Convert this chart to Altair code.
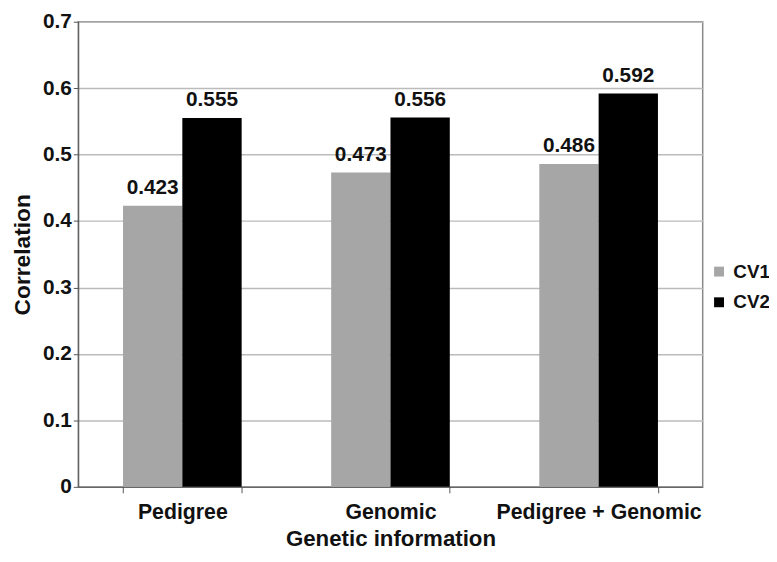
import altair as alt
import pandas as pd

categories = ["Pedigree", "Genomic", "Pedigree + Genomic"]
series = ["CV1", "CV2"]
cv1 = [0.423, 0.473, 0.486]
cv2 = [0.555, 0.556, 0.592]

rows = []
for c, a, b in zip(categories, cv1, cv2):
    rows.append({"cat": c, "series": "CV1", "value": a, "label": f"{a:.3f}"})
    rows.append({"cat": c, "series": "CV2", "value": b, "label": f"{b:.3f}"})
df = pd.DataFrame(rows)

FONT = "Liberation Sans"

x = alt.X("cat:N", sort=categories, title="Genetic information",
          scale=alt.Scale(paddingInner=0.43, paddingOuter=0.215),
          axis=alt.Axis(labelAngle=0, tickBand="extent", labelFontSize=21.5,
                        labelFontWeight="bold", titleFontSize=22.5, titleFontWeight="bold",
                        labelPadding=9, titlePadding=5, labelLimit=400,
                        domainColor="#555555", tickColor="#555555", tickSize=6,
                        labelColor="#111111", titleColor="#111111", grid=False,
                        labelFont=FONT, titleFont=FONT))
y = alt.Y("value:Q", title="Correlation",
          scale=alt.Scale(domain=[0, 0.7], nice=False),
          axis=alt.Axis(values=[0, 0.1, 0.2, 0.3, 0.4, 0.5, 0.6, 0.7], format=".1~f",
                        labelFontSize=21, labelFontWeight="bold", titleFontSize=23,
                        titleFontWeight="bold", gridColor="#bbbbbb", gridWidth=1.5,
                        domainColor="#555555", tickColor="#555555", tickSize=5,
                        labelColor="#111111", titleColor="#111111", titlePadding=8,
                        labelPadding=2, labelFont=FONT, titleFont=FONT))

color = alt.Color("series:N", sort=series,
                  scale=alt.Scale(domain=series, range=["#a6a6a6", "#000000"]),
                  legend=alt.Legend(title=None, orient="none", legendX=638, legendY=243,
                                    symbolType="square", symbolSize=100,
                                    symbolStrokeWidth=0, labelFontSize=19,
                                    labelFontWeight="bold", labelFont=FONT,
                                    labelColor="#111111", rowPadding=11, labelOffset=5))

base = alt.Chart(df).encode(x=x, xOffset=alt.XOffset("series:N", sort=series))

bars = base.mark_bar().encode(y=y, color=color)
text = base.mark_text(dy=-18, fontSize=21, fontWeight="bold", font=FONT,
                      color="#111111").encode(y=alt.Y("value:Q"), text="label:N")

chart = (bars + text).properties(
    width=631, height=470,
    autosize=alt.AutoSizeParams(type="none"),
    padding={"left": 71, "top": 11, "right": 67, "bottom": 65},
).configure_view(stroke="#888888", strokeWidth=1.5)

chart.save("out.html", embed_options={"renderer": "svg", "actions": False})
